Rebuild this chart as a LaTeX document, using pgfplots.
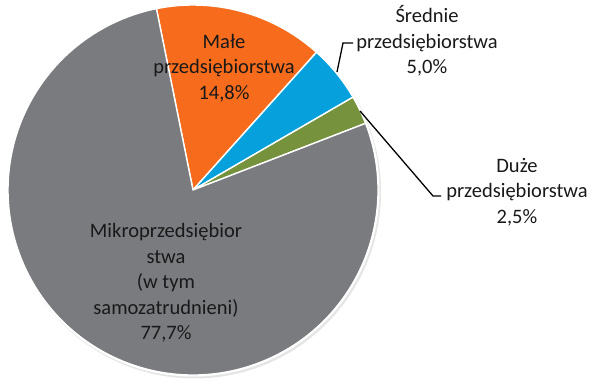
\documentclass[border=0pt]{standalone}
\usepackage{pgfplots}
\pgfplotsset{compat=1.18}
\usepackage{fontspec}
\setmainfont{Carlito}
\definecolor{cMikro}{RGB}{122,123,127}
\definecolor{cMale}{RGB}{246,108,28}
\definecolor{cSred}{RGB}{6,161,221}
\definecolor{cDuze}{RGB}{118,146,60}
\definecolor{txt}{RGB}{25,25,25}
% shares (percent)
\def\vMale{14.8}
\def\vSred{5.0}
\def\vDuze{2.5}
\def\vMikro{77.7}
\def\aStart{101.4}
\pgfmathsetmacro\aA{\aStart}
\pgfmathsetmacro\aB{\aA-3.6*\vMale}
\pgfmathsetmacro\aC{\aB-3.6*\vSred}
\pgfmathsetmacro\aD{\aC-3.6*\vDuze}
\pgfmathsetmacro\aE{\aD-3.6*\vMikro}
\def\R{185pt}
\newcommand\slice[3]{%
  \filldraw[fill=#1,draw=white,line width=1.4pt,line join=round]
   (axis cs:193,195) -- ([shift={(#2:\R)}]axis cs:193,195)
   arc[start angle=#2,end angle=#3,radius=\R] -- cycle;}
\begin{document}
\begin{tikzpicture}
\begin{axis}[x=1pt,y=1pt,xmin=0,xmax=590,ymin=0,ymax=385,
  hide axis,clip=false,scale only axis]
\fill[black!10] ([shift={(1.5pt,-2pt)}]axis cs:193,195) circle[radius=186.5pt];
\fill[white] (axis cs:193,195) circle[radius=186.5pt];
\slice{cMale}{\aA}{\aB}
\slice{cSred}{\aB}{\aC}
\slice{cDuze}{\aC}{\aD}
\slice{cMikro}{\aD}{\aE}
\draw[black,line width=1.3pt] (axis cs:337,313) -- (axis cs:343,342) -- (axis cs:353,342);
\draw[black,line width=1.3pt] (axis cs:360,274) -- (axis cs:433,189) -- (axis cs:441,189);
\begin{scope}[every node/.style={align=center,text=txt,font=\fontsize{20.5}{25.5}\selectfont,inner sep=0pt}]
\node at (axis cs:224,317) {Małe\\przedsiębiorstwa\\14,8\%};
\node at (axis cs:427,344) {Średnie\\przedsiębiorstwa\\5,0\%};
\node at (axis cs:517,193) {Duże\\przedsiębiorstwa\\2,5\%};
\node at (axis cs:166,102) {Mikroprzedsiębior\\stwa\\(w tym\\samozatrudnieni)\\77,7\%};
\end{scope}
\end{axis}
\pgfresetboundingbox
\path (current axis.south west) rectangle (current axis.north east);
\end{tikzpicture}
\end{document}
